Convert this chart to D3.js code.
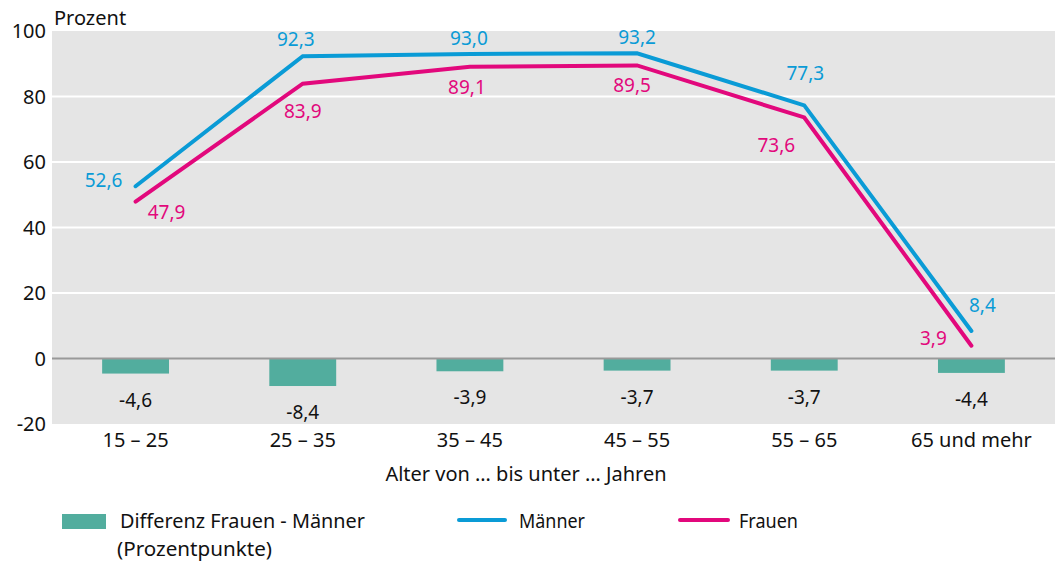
<!DOCTYPE html>
<html>
<head>
<meta charset="utf-8">
<script src="https://cdn.jsdelivr.net/npm/d3@7"></script>
<style>
  body { margin: 0; background: #fff; }
  text { font-family: "Noto Sans", sans-serif; }
</style>
</head>
<body>
<script>
var categories = ["15 – 25", "25 – 35", "35 – 45", "45 – 55", "55 – 65", "65 und mehr"];
var maenner = [52.6, 92.3, 93.0, 93.2, 77.3, 8.4];
var frauen = [47.9, 83.9, 89.1, 89.5, 73.6, 3.9];
var differenz = [-4.6, -8.4, -3.9, -3.7, -3.7, -4.4];
var yTicks = [-20, 0, 20, 40, 60, 80, 100];

// label placement for each point: [dx, dy]
var mLabelPos = [[-32, 1], [-7, -10], [-1, -9], [0, -9], [1, -25], [11, -19]];
var fLabelPos = [[31, 17], [0, 34], [-3, 27], [-5, 27], [-28, 35], [-38, -1]];

var width = 1061, height = 561;
var pLeft = 52, pRight = 1055, pTop = 31, pBottom = 424;

var blue = "#0a9bd6", pink = "#e2087c", green = "#52ad9e";
var fs = "19px";
var fmt = function(v){ return d3.format(".1f")(v).replace(".", ",").replace("−", "-"); };

var svg = d3.select("body").append("svg")
  .attr("width", width)
  .attr("height", height);

var x = d3.scaleBand().domain(categories).range([pLeft, pRight]).paddingInner(0.6).paddingOuter(0.3);
var xc = function(i){ return x(categories[i]) + x.bandwidth()/2; };
var y = d3.scaleLinear().domain([-20, 100]).range([pBottom, pTop]);

svg.append("rect")
  .attr("x", pLeft).attr("y", pTop)
  .attr("width", pRight-pLeft).attr("height", pBottom-pTop)
  .attr("fill", "#e5e5e5");

// grid
svg.selectAll(".grid")
  .data(yTicks.filter(function(d){ return d != -20 && d != 100 && d != 0; }))
  .enter().append("line")
  .attr("x1", pLeft).attr("x2", pRight)
  .attr("y1", function(d){ return y(d); })
  .attr("y2", function(d){ return y(d); })
  .attr("stroke", "#fff").attr("stroke-width", 2);

// y tick labels
svg.selectAll(".ytick")
  .data(yTicks)
  .enter().append("text")
  .text(function(d){ return d; })
  .attr("x", 46)
  .attr("y", function(d){ return y(d) + 7; })
  .attr("text-anchor", "end")
  .attr("font-size", "20px")
  .attr("fill", "#111");

svg.append("text").text("Prozent")
  .attr("x", 54).attr("y", 25)
  .attr("font-size", "20px").attr("fill", "#111");

// bars
svg.selectAll(".bar")
  .data(differenz)
  .enter().append("rect")
  .attr("x", function(d, i){ return x(categories[i]); })
  .attr("y", y(0))
  .attr("width", x.bandwidth())
  .attr("height", function(d){ return y(d) - y(0); })
  .attr("fill", green);

svg.selectAll(".barlabel")
  .data(differenz)
  .enter().append("text")
  .text(function(d){ return fmt(d); })
  .attr("x", function(d, i){ return xc(i); })
  .attr("y", function(d){ return y(d) + 33; })
  .attr("text-anchor", "middle")
  .attr("font-size", fs).attr("fill", "#111");

// zero line
svg.append("line")
  .attr("x1", pLeft).attr("x2", pRight)
  .attr("y1", y(0)).attr("y2", y(0))
  .attr("stroke", "#999").attr("stroke-width", 2);

var line = d3.line()
  .x(function(d, i){ return xc(i); })
  .y(function(d){ return y(d); });

svg.append("path").datum(frauen)
  .attr("d", line).attr("fill", "none")
  .attr("stroke", pink).attr("stroke-width", 4).attr("stroke-linecap", "round");

svg.append("path").datum(maenner)
  .attr("d", line).attr("fill", "none")
  .attr("stroke", blue).attr("stroke-width", 4).attr("stroke-linecap", "round");

svg.selectAll(".mlabel")
  .data(maenner)
  .enter().append("text")
  .text(function(d){ return fmt(d); })
  .attr("x", function(d, i){ return xc(i) + mLabelPos[i][0]; })
  .attr("y", function(d, i){ return y(d) + mLabelPos[i][1]; })
  .attr("text-anchor", "middle")
  .attr("font-size", fs).attr("fill", blue);

svg.selectAll(".flabel")
  .data(frauen)
  .enter().append("text")
  .text(function(d){ return fmt(d); })
  .attr("x", function(d, i){ return xc(i) + fLabelPos[i][0]; })
  .attr("y", function(d, i){ return y(d) + fLabelPos[i][1]; })
  .attr("text-anchor", "middle")
  .attr("font-size", fs).attr("fill", pink);

// x axis labels
svg.selectAll(".xtick")
  .data(categories)
  .enter().append("text")
  .text(function(d){ return d; })
  .attr("x", function(d, i){ return xc(i); })
  .attr("y", 447)
  .attr("text-anchor", "middle")
  .attr("font-size", "20px").attr("fill", "#111");

svg.append("text").text("Alter von … bis unter … Jahren")
  .attr("x", 526).attr("y", 481)
  .attr("text-anchor", "middle")
  .attr("font-size", "20px").attr("fill", "#111");

// legend
var legendItems = [
  {label: "Differenz Frauen - Männer", x: 120, y: 528, len: 245},
  {label: "(Prozentpunkte)", x: 117, y: 556, len: 155},
  {label: "Männer", x: 519, y: 528, len: 66},
  {label: "Frauen", x: 739, y: 528, len: 59}
];
var lg = svg.append("g");
lg.append("rect").attr("x", 62).attr("y", 514).attr("width", 44).attr("height", 15).attr("fill", green);
lg.append("line").attr("x1", 459).attr("x2", 505).attr("y1", 520).attr("y2", 520)
  .attr("stroke", blue).attr("stroke-width", 4).attr("stroke-linecap", "round");
lg.append("line").attr("x1", 680).attr("x2", 728).attr("y1", 520).attr("y2", 520)
  .attr("stroke", pink).attr("stroke-width", 4).attr("stroke-linecap", "round");
lg.selectAll(".ltext")
  .data(legendItems)
  .enter().append("text")
  .text(function(d){ return d.label; })
  .attr("x", function(d){ return d.x; })
  .attr("y", function(d){ return d.y; })
  .attr("textLength", function(d){ return d.len; })
  .attr("lengthAdjust", "spacingAndGlyphs")
  .attr("font-size", "20px").attr("fill", "#111");
</script>
</body>
</html>
